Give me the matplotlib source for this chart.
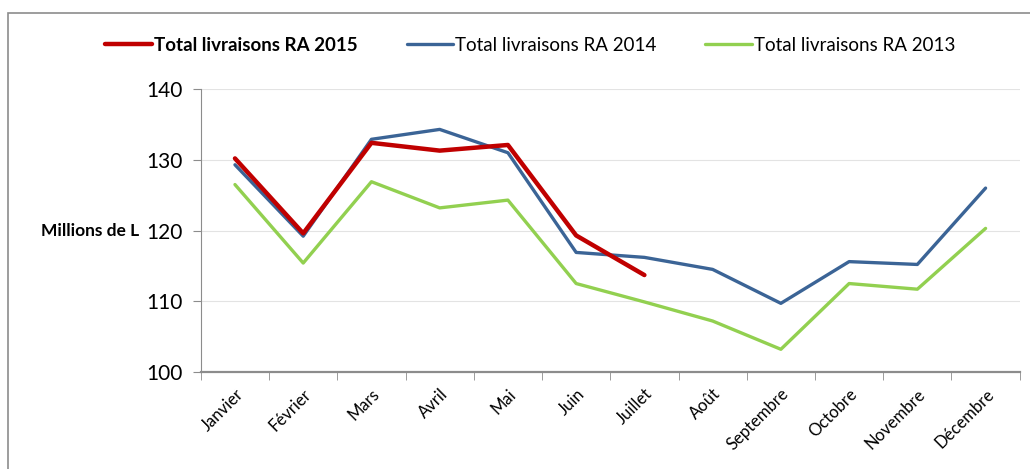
import matplotlib
matplotlib.use("Agg")
import matplotlib.pyplot as plt
from matplotlib.patches import Rectangle

plt.rcParams['font.family'] = ['Lato', 'DejaVu Sans']

mois = ["Janvier", "Février", "Mars", "Avril", "Mai", "Juin", "Juillet",
        "Août", "Septembre", "Octobre", "Novembre", "Décembre"]
ra_2015 = [130.2, 119.6, 132.4, 131.3, 132.1, 119.3, 113.7]
ra_2014 = [129.3, 119.2, 132.9, 134.3, 131.0, 116.9, 116.2, 114.5, 109.7, 115.6, 115.2, 126.0]
ra_2013 = [126.5, 115.4, 126.9, 123.2, 124.3, 112.5, 109.9, 107.2, 103.2, 112.5, 111.7, 120.3]

fig = plt.figure(figsize=(10.30, 4.69), dpi=100)
ax = fig.add_axes([0.195, 0.207, 0.795, 0.603])

# cadre gris autour du graphique
fig.patches.append(Rectangle((8 / 1030, -0.1), 1.1, 0.972 + 0.1, transform=fig.transFigure,
                             fill=False, edgecolor="#8c8c8c", linewidth=1.2))

x = list(range(len(mois)))
l15, = ax.plot(x[:len(ra_2015)], ra_2015, color="#C00000", lw=3.2, solid_capstyle="round",
               label="Total livraisons RA 2015", zorder=4)
l14, = ax.plot(x, ra_2014, color="#3B6496", lw=2.4, solid_capstyle="round",
               label="Total livraisons RA 2014", zorder=3)
l13, = ax.plot(x, ra_2013, color="#92D050", lw=2.4, solid_capstyle="round",
               label="Total livraisons RA 2013", zorder=2)

ax.set_xlim(-0.5, 11.5)
ax.set_ylim(100, 140)
ax.set_yticks([100, 110, 120, 130, 140])
ax.yaxis.grid(True, color="#e3e3e3", lw=0.8)
ax.set_axisbelow(True)

ax.set_xticks(x)
ax.set_xticklabels(mois, rotation=45, ha="right", rotation_mode="anchor", fontsize=12)
ax.set_xticks([i - 0.5 for i in range(13)], minor=True)
ax.tick_params(axis="x", which="major", length=0, pad=10)
ax.tick_params(axis="x", which="minor", length=6, color="#8c8c8c", direction="out")
ax.tick_params(axis="y", labelsize=15, length=6, color="#8c8c8c", pad=7)

for s in ["top", "right"]:
    ax.spines[s].set_visible(False)
ax.spines["left"].set_color("#8c8c8c")
ax.spines["bottom"].set_color("#8c8c8c")
ax.spines["bottom"].set_linewidth(1.6)

fig.text(0.135, 1 - 231 / 469, "Millions de L", fontsize=12.5, fontweight="bold",
         ha="right", va="center")

leg = fig.legend(handles=[l15, l14, l13], loc="center", bbox_to_anchor=(0.515, 0.904),
                 ncol=3, frameon=False, fontsize=13.5, handlelength=2.5,
                 handletextpad=0.1, columnspacing=2.6)
leg.get_texts()[0].set_fontweight("bold")

fig.savefig("out.png", dpi=100)
